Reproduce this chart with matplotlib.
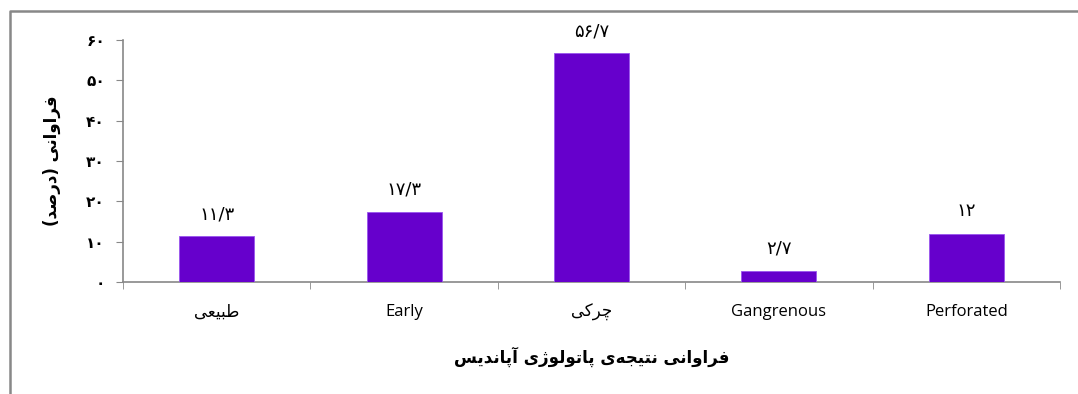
import matplotlib
matplotlib.use('Agg')
import matplotlib.pyplot as plt
from matplotlib.lines import Line2D
from matplotlib.ticker import FuncFormatter

categories = ['طبیعی', 'Early', 'چرکی', 'Gangrenous', 'Perforated']
values = [11.3, 17.3, 56.7, 2.7, 12]
y_ticks = [0, 10, 20, 30, 40, 50, 60]
x_title = 'فراوانی نتیجه‌ی پاتولوژی آپاندیس'
y_title = 'فراوانی (درصد)'

# presentation forms: isolated, final, initial, medial
FORMS = {
    'ا': ('\uFE8D', '\uFE8E'), 'آ': ('\uFE81', '\uFE82'),
    'د': ('\uFEA9', '\uFEAA'), 'ر': ('\uFEAD', '\uFEAE'),
    'ژ': ('\uFB8A', '\uFB8B'), 'و': ('\uFEED', '\uFEEE'),
    'ب': ('\uFE8F', '\uFE90', '\uFE91', '\uFE92'),
    'پ': ('\uFB56', '\uFB57', '\uFB58', '\uFB59'),
    'ت': ('\uFE95', '\uFE96', '\uFE97', '\uFE98'),
    'ج': ('\uFE9D', '\uFE9E', '\uFE9F', '\uFEA0'),
    'چ': ('\uFB7A', '\uFB7B', '\uFB7C', '\uFB7D'),
    'س': ('\uFEB1', '\uFEB2', '\uFEB3', '\uFEB4'),
    'ص': ('\uFEB9', '\uFEBA', '\uFEBB', '\uFEBC'),
    'ط': ('\uFEC1', '\uFEC2', '\uFEC3', '\uFEC4'),
    'ع': ('\uFEC9', '\uFECA', '\uFECB', '\uFECC'),
    'ف': ('\uFED1', '\uFED2', '\uFED3', '\uFED4'),
    'ک': ('\uFB8E', '\uFB8F', '\uFB90', '\uFB91'),
    'ل': ('\uFEDD', '\uFEDE', '\uFEDF', '\uFEE0'),
    'ن': ('\uFEE5', '\uFEE6', '\uFEE7', '\uFEE8'),
    'ه': ('\uFEE9', '\uFEEA', '\uFEEB', '\uFEEC'),
    'ی': ('\uFBFC', '\uFBFD', '\uFBFE', '\uFBFF'),
}
MIRROR = {'(': ')', ')': '('}


def shape(text):
    if not any(c in FORMS for c in text):
        return text
    out = []
    for i, c in enumerate(text):
        if c not in FORMS:
            if c != '\u200c':
                out.append(MIRROR.get(c, c))
            continue
        prev = text[i - 1] if i > 0 else ''
        nxt = text[i + 1] if i + 1 < len(text) else ''
        jp = prev in FORMS and len(FORMS[prev]) == 4
        jn = len(FORMS[c]) == 4 and nxt in FORMS
        f = FORMS[c]
        if jp and jn:
            out.append(f[3])
        elif jp:
            out.append(f[1])
        elif jn:
            out.append(f[2])
        else:
            out.append(f[0])
    return ''.join(reversed(out))


def fa_num(s):
    return str(s).translate(str.maketrans('0123456789.', '۰۱۲۳۴۵۶۷۸۹/'))


fig = plt.figure(figsize=(10.78, 3.94), dpi=100)
ax = fig.add_axes([123 / 1078, 112 / 394, 937 / 1078, 242 / 394])

x = range(len(categories))
bars = ax.bar(x, values, width=0.4, color='#6600CC', edgecolor='#9955ee', linewidth=0.6, zorder=3)
for xi, v in zip(x, values):
    lbl = fa_num(int(v) if v == int(v) else v)
    ax.text(xi, v + 3.3, lbl, ha='center', va='bottom', fontsize=13, family='DejaVu Sans')

ax.set_xlim(-0.5, len(categories) - 0.5)
ax.set_ylim(0, 60)
ax.set_yticks(y_ticks)
ax.yaxis.set_major_formatter(FuncFormatter(lambda v, p: fa_num(int(v))))
for t in ax.get_yticklabels():
    t.set_fontfamily('DejaVu Sans')
    t.set_fontsize(11)
    t.set_fontweight('bold')
ax.tick_params(axis='y', length=5, color='#888888', pad=8)

ax.set_xticks(list(x))
ax.set_xticklabels([shape(c) for c in categories], fontsize=12, family=['Open Sans', 'DejaVu Sans'])
ax.set_xticks([i + 0.5 for i in range(-1, len(categories))], minor=True)
ax.tick_params(axis='x', which='major', length=0, pad=16)
ax.tick_params(axis='x', which='minor', length=5, color='#888888')

for s in ['top', 'right']:
    ax.spines[s].set_visible(False)
for s in ['left', 'bottom']:
    ax.spines[s].set_color('#888888')
    ax.spines[s].set_linewidth(1.2)

ax.set_xlabel(shape(x_title), fontsize=12, fontweight='bold', family='DejaVu Sans', labelpad=18)
ax.set_ylabel(shape(y_title), fontsize=12, fontweight='bold', family='DejaVu Sans', labelpad=18)

# outer frame (left and top only)
fig.add_artist(Line2D([9.5 / 1078, 9.5 / 1078, 1.0], [0, 1 - 10.5 / 394, 1 - 10.5 / 394],
                      color='#888888', linewidth=1.8, transform=fig.transFigure))

fig.savefig('out.png', dpi=100)
